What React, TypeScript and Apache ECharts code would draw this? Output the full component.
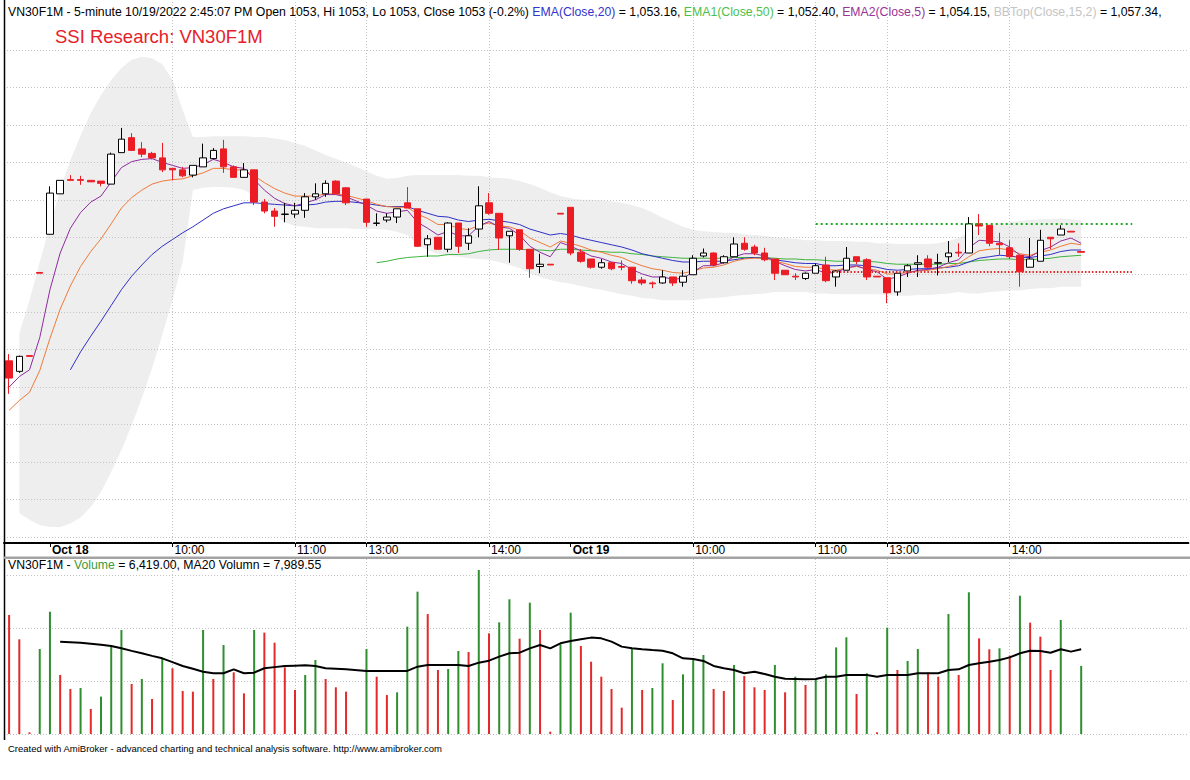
import React, { useEffect, useRef } from "react";
import * as echarts from "echarts";

// ---------- data ----------
const SLOT_COUNT = 116; // visible bar slots on the time axis (106 bars + empty right margin)

const AXIS_LABELS: Record<number, string> = {
  4: "Oct 18", 16: "10:00", 28: "11:00", 35: "13:00", 47: "14:00",
  55: "Oct 19", 67: "10:00", 79: "11:00", 86: "13:00", 98: "14:00",
};
const DAY_LABEL_IDX = [4, 55];
const TIME_GRID_IDX = [16, 28, 35, 47, 67, 79, 86, 98];
const PRICE_GRID = [1015, 1020, 1025, 1030, 1035, 1040, 1045, 1050, 1055, 1060, 1065, 1070, 1075, 1080];
const VOLUME_GRID = [0, 5000, 10000, 15000];

const open = [
  1038.5, 1037.1, 1039.2, 1050.3, 1055.4, 1060.8, 1062.7, 1062.7, 1062.6, 1062.5,
  1062.1, 1066.3, 1068.3, 1066.8, 1066.2, 1065.6, 1064.2, 1064.0, 1063.3, 1064.4,
  1065.5, 1066.8, 1064.4, 1063.0, 1064.0, 1059.7, 1058.5, 1058.05, 1058.1, 1058.6,
  1060.4, 1060.8, 1062.5, 1061.6, null, 1060.1, 1056.85, 1057.3, 1057.7, 1059.6,
  1058.8, 1054.0, 1055.0, 1053.4, 1056.9, 1054.2, 1056.1, 1059.6, 1058.2, 1055.2,
  1056.0, 1053.4, 1051.1, 1051.4, 1058.2, 1059.0, 1053.0, 1052.1, 1051.0, 1051.6,
  1051.1, 1051.0, 1049.3, 1048.9, 1048.9, 1049.7, 1049.0, 1050.0, 1052.5, 1052.9,
  1051.6, 1052.4, 1054.2, 1053.7, 1052.9, 1052.1, 1050.6, 1049.8, 1049.5, 1050.2,
  1051.3, 1049.7, 1050.6, 1052.4, 1052.0, 1049.8, 1049.6, 1047.7, 1050.5, 1051.4,
  1052.1, 1051.55, 1052.4, 1053.0, 1052.9, 1056.8, 1056.6, 1054.2, 1053.6, 1052.6,
  1051.0, 1051.8, 1055.0, 1055.3, 1055.8, 1053.1,
];
const high = [
  1039.4, 1039.2, 1039.2, 1050.3, 1061.8, 1062.6, 1063.3, 1063.2, 1062.6, 1062.5,
  1066.3, 1069.6, 1068.9, 1067.7, 1066.4, 1067.6, 1064.2, 1064.4, 1064.6, 1067.5,
  1066.9, 1068.0, 1064.6, 1064.9, 1064.0, 1060.1, 1058.9, 1059.6, 1059.6, 1060.9,
  1062.2, 1062.6, 1062.6, 1061.7, null, 1060.1, 1058.2, 1058.2, 1058.8, 1061.7,
  1058.8, 1055.3, 1055.0, 1057.0, 1056.9, 1056.2, 1061.8, 1060.9, 1058.2, 1055.8,
  1056.0, 1053.4, 1052.8, 1051.4, 1058.2, 1059.0, 1053.4, 1052.1, 1052.1, 1051.7,
  1051.9, 1051.0, 1049.7, 1049.1, 1050.6, 1049.7, 1050.6, 1052.6, 1053.5, 1053.0,
  1052.6, 1055.0, 1055.0, 1054.0, 1053.6, 1052.1, 1050.6, 1050.2, 1050.3, 1051.5,
  1052.4, 1050.6, 1053.7, 1052.4, 1052.2, 1049.8, 1049.6, 1050.2, 1051.4, 1052.6,
  1052.6, 1052.8, 1054.5, 1054.2, 1057.7, 1058.1, 1056.6, 1055.6, 1054.6, 1052.6,
  1054.9, 1056.0, 1055.0, 1056.6, 1055.8, 1053.1,
];
const low = [
  1034.1, 1036.9, 1039.1, 1050.2, 1055.4, 1060.8, 1062.6, 1062.0, 1062.4, 1061.8,
  1062.1, 1066.3, 1066.6, 1065.7, 1065.4, 1063.7, 1062.6, 1063.0, 1063.0, 1064.4,
  1065.4, 1063.6, 1063.0, 1063.0, 1059.3, 1058.2, 1056.4, 1057.0, 1057.6, 1057.6,
  1060.0, 1060.4, 1060.8, 1059.3, null, 1056.4, 1056.5, 1057.0, 1056.9, 1058.9,
  1053.7, 1052.4, 1053.4, 1053.0, 1052.9, 1053.3, 1055.0, 1058.0, 1053.3, 1051.6,
  1053.2, 1049.6, 1050.2, 1051.3, 1058.1, 1052.6, 1051.6, 1050.8, 1050.8, 1050.6,
  1050.6, 1048.8, 1048.6, 1048.2, 1048.8, 1048.5, 1048.4, 1050.0, 1052.3, 1051.1,
  1051.5, 1052.4, 1053.2, 1052.6, 1051.8, 1049.3, 1050.0, 1049.3, 1049.3, 1050.2,
  1049.0, 1048.4, 1050.6, 1051.4, 1049.3, 1049.7, 1046.2, 1047.2, 1049.7, 1049.7,
  1050.6, 1049.9, 1051.7, 1052.4, 1052.9, 1055.3, 1053.8, 1052.6, 1052.1, 1048.4,
  1051.0, 1051.8, 1053.4, 1055.3, 1055.7, 1053.0,
];
const close = [
  1036.2, 1039.1, 1039.1, 1050.2, 1060.9, 1062.6, 1062.6, 1062.6, 1062.4, 1062.2,
  1066.1, 1068.1, 1066.6, 1066.1, 1065.6, 1064.0, 1064.0, 1063.2, 1064.6, 1065.6,
  1066.6, 1064.4, 1063.0, 1064.0, 1059.7, 1058.5, 1057.8, 1058.1, 1058.6, 1060.4,
  1060.8, 1062.2, 1060.8, 1059.6, null, 1057.0, 1056.9, 1057.7, 1058.8, 1058.9,
  1053.8, 1054.8, 1053.4, 1056.9, 1053.8, 1055.2, 1059.2, 1058.2, 1054.9, 1055.8,
  1053.4, 1050.8, 1051.4, 1051.3, 1058.1, 1052.9, 1051.8, 1051.0, 1051.6, 1050.8,
  1051.0, 1049.2, 1048.9, 1048.8, 1049.7, 1048.9, 1049.8, 1052.2, 1052.9, 1051.3,
  1052.4, 1054.1, 1053.4, 1052.9, 1052.0, 1050.2, 1050.0, 1049.7, 1050.2, 1051.2,
  1049.2, 1050.5, 1052.2, 1051.8, 1049.7, 1049.7, 1047.6, 1050.2, 1051.2, 1051.6,
  1051.0, 1051.6, 1052.9, 1052.9, 1056.8, 1056.5, 1054.2, 1054.0, 1052.4, 1050.4,
  1052.1, 1054.6, 1054.8, 1056.1, 1055.7, 1053.0,
];

// EMA2(Close,5) - purple
const ema5 = [
  1035.0, 1036.4, 1037.3, 1041.6, 1048.0, 1052.9, 1056.2, 1058.3, 1059.7, 1060.5,
  1062.4, 1064.3, 1065.1, 1065.4, 1065.5, 1065.0, 1064.6, 1064.2, 1064.3, 1064.7,
  1065.4, 1065.0, 1064.4, 1064.2, 1062.7, 1061.3, 1060.2, 1059.5, 1059.2, 1059.6,
  1060.0, 1060.7, 1060.7, 1060.4, null, 1059.3, 1058.5, 1058.2, 1058.4, 1058.6,
  1057.0, 1056.2, 1055.3, 1055.8, 1055.2, 1055.2, 1056.5, 1057.1, 1056.4, 1056.2,
  1055.3, 1053.8, 1053.0, 1052.4, 1054.3, 1053.8, 1053.2, 1052.5, 1052.2, 1051.7,
  1051.5, 1050.7, 1050.1, 1049.7, 1049.7, 1049.4, 1049.5, 1050.4, 1051.2, 1051.2,
  1051.6, 1052.4, 1052.8, 1052.8, 1052.5, 1051.8, 1051.2, 1050.7, 1050.5, 1050.7,
  1050.2, 1050.3, 1050.9, 1051.2, 1050.7, 1050.4, 1049.4, 1049.7, 1050.2, 1050.6,
  1050.7, 1051.0, 1051.6, 1052.0, 1053.6, 1054.6, 1054.5, 1054.4, 1053.7, 1052.6,
  1052.4, 1053.2, 1053.7, 1054.5, 1054.9, 1054.2,
];
// orange average
const ema10 = [
  1031.9, 1033.2, 1034.3, 1037.2, 1041.5, 1045.4, 1048.5, 1051.1, 1053.1, 1054.8,
  1056.8, 1058.9, 1060.3, 1061.3, 1062.1, 1062.5, 1062.7, 1062.8, 1063.2, 1063.6,
  1064.2, 1064.2, 1064.0, 1064.0, 1063.2, 1062.3, 1061.5, 1060.9, 1060.5, 1060.5,
  1060.5, 1060.8, 1060.8, 1060.6, null, 1059.9, 1059.4, 1059.1, 1059.0, 1059.0,
  1058.1, 1057.5, 1056.7, 1056.7, 1056.2, 1056.0, 1056.6, 1056.9, 1056.5, 1056.4,
  1055.9, 1054.9, 1054.3, 1053.7, 1054.5, 1054.2, 1053.8, 1053.3, 1053.0, 1052.6,
  1052.3, 1051.7, 1051.2, 1050.8, 1050.6, 1050.3, 1050.2, 1050.5, 1050.9, 1051.0,
  1051.3, 1051.8, 1052.1, 1052.2, 1052.2, 1051.8, 1051.5, 1051.1, 1051.0, 1051.0,
  1050.7, 1050.6, 1050.9, 1051.1, 1050.8, 1050.6, 1050.1, 1050.1, 1050.3, 1050.5,
  1050.6, 1050.8, 1051.1, 1051.5, 1052.4, 1053.2, 1053.4, 1053.5, 1053.3, 1052.8,
  1052.6, 1053.0, 1053.3, 1053.8, 1054.2, 1054.0,
];
// EMA(Close,20) - blue
const ema20 = [
  null, null, null, null, null, null, 1037.3, 1039.7, 1041.8, 1043.8,
  1045.9, 1048.0, 1049.8, 1051.3, 1052.7, 1053.8, 1054.7, 1055.6, 1056.4, 1057.3,
  1058.2, 1058.8, 1059.2, 1059.6, 1059.6, 1059.5, 1059.4, 1059.3, 1059.2, 1059.3,
  1059.4, 1059.7, 1059.8, 1059.8, null, 1059.5, 1059.3, 1059.1, 1059.1, 1059.1,
  1058.6, 1058.2, 1057.8, 1057.7, 1057.3, 1057.1, 1057.3, 1057.4, 1057.2, 1057.0,
  1056.7, 1056.1, 1055.7, 1055.3, 1055.5, 1055.3, 1054.9, 1054.6, 1054.3, 1054.0,
  1053.7, 1053.3, 1052.8, 1052.5, 1052.2, 1051.9, 1051.7, 1051.7, 1051.8, 1051.8,
  1051.8, 1052.0, 1052.2, 1052.3, 1052.2, 1052.0, 1051.8, 1051.6, 1051.5, 1051.5,
  1051.2, 1051.2, 1051.3, 1051.3, 1051.2, 1051.0, 1050.7, 1050.6, 1050.7, 1050.8,
  1050.8, 1050.9, 1051.0, 1051.2, 1051.7, 1052.2, 1052.4, 1052.6, 1052.5, 1052.3,
  1052.3, 1052.5, 1052.7, 1053.1, 1053.3, 1053.3,
];
// EMA1(Close,50) - green
const ema50 = [
  null, null, null, null, null, null, null, null, null, null,
  null, null, null, null, null, null, null, null, null, null,
  null, null, null, null, null, null, null, null, null, null,
  null, null, null, null, null, null, 1051.6, 1051.8, 1052.1, 1052.3,
  1052.4, 1052.5, 1052.5, 1052.7, 1052.7, 1052.8, 1053.1, 1053.3, 1053.4, 1053.4,
  1053.4, 1053.3, 1053.3, 1053.2, 1053.4, 1053.4, 1053.3, 1053.2, 1053.1, 1053.0,
  1053.0, 1052.8, 1052.7, 1052.5, 1052.4, 1052.3, 1052.2, 1052.2, 1052.2, 1052.2,
  1052.2, 1052.3, 1052.3, 1052.3, 1052.3, 1052.2, 1052.1, 1052.1, 1052.0, 1052.0,
  1051.9, 1051.8, 1051.8, 1051.8, 1051.8, 1051.7, 1051.5, 1051.4, 1051.4, 1051.4,
  1051.4, 1051.4, 1051.5, 1051.5, 1051.7, 1051.9, 1052.0, 1052.1, 1052.1, 1052.0,
  1052.0, 1052.1, 1052.2, 1052.4, 1052.5, 1052.6,
];
// Bollinger band (Close,15,2)
const bbTop = [
  null, 1042.2, 1046.6, 1051.7, 1056.6, 1061.3, 1065.3, 1068.6, 1071.6, 1074.0,
  1076.0, 1077.6, 1078.7, 1079.1, 1078.9, 1078.1, 1076.0, 1072.0, 1068.4, 1068.4,
  1068.5, 1068.5, 1068.5, 1068.5, 1068.4, 1068.4, 1068.2, 1068.0, 1067.6, 1067.2,
  1066.6, 1066.0, 1065.5, 1065.0, 1064.4, 1063.8, 1063.2, 1062.8, 1062.9, 1063.2,
  1063.3, 1063.3, 1063.3, 1063.3, 1063.3, 1063.2, 1063.2, 1063.0, 1062.9, 1062.8,
  1062.5, 1062.1, 1061.6, 1061.0, 1060.5, 1060.2, 1060.0, 1060.0, 1059.9, 1059.8,
  1059.6, 1059.3, 1058.9, 1058.3, 1057.6, 1057.0, 1056.4, 1056.0, 1055.8, 1055.7,
  1055.6, 1055.6, 1055.4, 1055.3, 1055.2, 1055.0, 1054.9, 1054.8, 1054.6, 1054.6,
  1054.5, 1054.5, 1054.5, 1054.4, 1054.4, 1054.2, 1054.2, 1054.1, 1054.1, 1054.1,
  1054.1, 1054.2, 1054.5, 1054.9, 1055.7, 1056.2, 1056.5, 1056.8, 1057.0, 1057.2,
  1057.3, 1057.4, 1057.4, 1057.5, 1057.4, 1057.3,
];
const bbBottom = [
  null, 1018.2, 1017.3, 1016.6, 1016.3, 1016.3, 1016.8, 1017.6, 1019.0, 1021.0,
  1023.7, 1026.6, 1029.9, 1033.5, 1037.5, 1042.0, 1046.6, 1051.7, 1061.3, 1061.6,
  1061.7, 1061.7, 1061.6, 1061.3, 1060.6, 1059.3, 1058.0, 1057.0, 1056.5, 1056.4,
  1056.2, 1056.2, 1056.2, 1056.2, 1056.1, 1056.1, 1056.1, 1056.0, 1055.7, 1055.3,
  1054.0, 1053.3, 1052.8, 1052.5, 1052.4, 1052.2, 1052.1, 1052.0, 1051.7, 1051.3,
  1050.9, 1050.2, 1049.7, 1049.3, 1049.0, 1048.8, 1048.5, 1048.2, 1048.0, 1047.7,
  1047.4, 1047.2, 1046.9, 1046.8, 1046.6, 1046.6, 1046.6, 1046.6, 1046.8, 1046.9,
  1047.0, 1047.2, 1047.3, 1047.4, 1047.5, 1047.7, 1047.7, 1047.7, 1047.7, 1047.5,
  1047.5, 1047.4, 1047.4, 1047.4, 1047.4, 1047.4, 1047.3, 1047.2, 1047.2, 1047.3,
  1047.3, 1047.4, 1047.5, 1047.7, 1047.5, 1047.5, 1047.7, 1047.8, 1047.9, 1047.9,
  1048.1, 1048.2, 1048.2, 1048.4, 1048.4, 1048.4,
];

const resistanceLevel = 1056.8;
const resistanceRange = [79, 110];
const supportLevel = 1050.4;
const supportRange = [80, 110];

const volume = [
  11210, 8920, 160, 8010, 11520, 5560, 4240, 4330, 2360, 3520,
  8290, 9800, 4710, 5180, 3300, 7130, 6190, 4050, 3990, 9800,
  5180, 8380, 5810, 3830, 9800, 9550, 8600, 6280, 4150, 5560,
  6970, 5180, 4400, 3990, null, 8010, 5400, 3670, 3930, 10110,
  13410, 11300, 6030, 6120, 7820, 7720, 15450, 9480, 10520, 12690,
  8980, 12370, 9800, 220, 8450, 11430, 8290, 6810, 5400, 4240,
  2480, 8010, 4150, 4330, 6660, 3200, 5620, 6970, 7440, 4240,
  4050, 6500, 5460, 4400, 4150, 6500, 3930, 5400, 4620, 5150,
  5620, 8160, 9110, 3770, 5720, 160, 10020, 6030, 6880, 8010,
  5810, 5400, 11300, 5560, 13350, 9010, 7980, 8070, 7380, 13030,
  10490, 9170, 6030, 10740, null, 6419,
];
const volumeUp = [
  0, 0, 0, 1, 1, 0, 0, 1, 0, 1,
  1, 1, 0, 1, 0, 1, 0, 0, 0, 1,
  0, 1, 0, 0, 1, 0, 0, 0, 0, 1,
  1, 0, 0, 0, 0, 1, 0, 0, 1, 1,
  1, 0, 0, 1, 1, 0, 1, 0, 1, 1,
  0, 1, 0, 0, 1, 1, 0, 0, 0, 0,
  0, 1, 0, 1, 1, 0, 1, 1, 1, 0,
  0, 1, 0, 0, 0, 1, 0, 1, 0, 1,
  1, 1, 1, 0, 1, 0, 1, 0, 1, 1,
  0, 0, 1, 0, 1, 0, 0, 1, 0, 1,
  0, 0, 0, 1, 0, 1,
];
const volumeMA20 = [
  null, null, null, null, null, 8700, 8650, 8600, 8500, 8400,
  8290, 8070, 7830, 7600, 7360, 7130, 6770, 6410, 6140, 5870,
  5720, 5720, 6090, 5720, 5780, 6190, 6300, 6410, 6440, 6470,
  6410, 6190, 6140, 6090, null, 5940, 5940, 5940, 5940, 5940,
  6340, 6500, 6500, 6500, 6500, 6410, 6720, 6910, 7290, 7600,
  7660, 8070, 8380, 8070, 8540, 8760, 8920, 9080, 9010, 8700,
  8230, 8070, 7980, 7910, 7850, 7600, 7130, 7070, 6880, 6410,
  6190, 6030, 5720, 5870, 5650, 5400, 5210, 5180, 5150, 5180,
  5400, 5400, 5560, 5560, 5560, 5400, 5560, 5560, 5560, 5720,
  5720, 5720, 6030, 6090, 6500, 6660, 6810, 6970, 7220, 7600,
  7850, 7820, 7660, 7980, 7760, 7990,
];

// ---------- styling ----------
const FONT = 'Arial, "Liberation Sans", Helvetica, sans-serif';
const RED = "#ec1c24";
const VOL_RED = "#e32a2a";
const VOL_GREEN = "#2e8f2e";
const GRID_LINE = { color: "#c4c4c4", width: 1, type: [1, 2] as number[] };
const HEAD_SIZE = 12.25;

function buildOption() {
  const cats = Array.from({ length: SLOT_COUNT }, (_, i) => String(i));
  const candleData = open.map((o, i) =>
    o == null ? ["-", "-", "-", "-"] : [o, close[i], low[i], high[i]]
  );
  const bandSpan = bbTop.map((t, i) =>
    t == null || bbBottom[i] == null ? null : +(t - (bbBottom[i] as number)).toFixed(2)
  );
  const volData = volume.map((v, i) =>
    v == null ? "-" : { value: v, itemStyle: { color: volumeUp[i] ? VOL_GREEN : VOL_RED } }
  );
  const emptyData = cats.map(() => null);
  const lineBase = { type: "line", symbol: "none", silent: true, connectNulls: true, xAxisIndex: 0, yAxisIndex: 0 };

  const txt = (color: string) => ({ color, fontSize: HEAD_SIZE, fontFamily: FONT });

  return {
    animation: false,
    backgroundColor: "#ffffff",
    title: [
      {
        left: 8, top: 6, padding: 0,
        text:
          "{k|VN30F1M - 5-minute 10/19/2022 2:45:07 PM Open 1053, Hi 1053, Lo 1053, Close 1053 (-0.2%) }" +
          "{b|EMA(Close,20)}{k| = 1,053.16, }{g|EMA1(Close,50)}{k| = 1,052.40, }" +
          "{p|EMA2(Close,5)}{k| = 1,054.15, }{s|BBTop(Close,15,2)}{k| = 1,057.34,}",
        textStyle: {
          fontSize: HEAD_SIZE, fontFamily: FONT, fontWeight: "normal",
          rich: { k: txt("#000000"), b: txt("#3333cc"), g: txt("#4cbf4c"), p: txt("#993399"), s: txt("#c4c4c4") },
        },
      },
      {
        left: 55, top: 27, padding: 0,
        text: "SSI Research: VN30F1M",
        textStyle: { fontSize: 18.5, fontFamily: FONT, fontWeight: "normal", color: "#e8202a" },
      },
      {
        left: 8, top: 559, padding: 0,
        text: "{k|VN30F1M - }{g|Volume}{k| = 6,419.00, MA20 Volumn = 7,989.55}",
        textStyle: {
          fontSize: HEAD_SIZE, fontFamily: FONT, fontWeight: "normal",
          rich: { k: txt("#000000"), g: txt("#3a9a3a") },
        },
      },
      {
        left: 8, top: 743, padding: 0,
        text: "Created with AmiBroker - advanced charting and technical analysis software. http://www.amibroker.com",
        textStyle: { fontSize: 9.5, fontFamily: FONT, fontWeight: "normal", color: "#000000" },
      },
    ],
    grid: [
      { left: 4, top: 0, width: 1184.4, height: 543 },
      { left: 4, top: 558, width: 1184.4, height: 176 },
    ],
    xAxis: [
      {
        type: "category", gridIndex: 0, data: cats, boundaryGap: true,
        axisLine: { show: true, lineStyle: { color: "#000", width: 2 } },
        axisTick: {
          show: true, alignWithLabel: true, length: 4,
          interval: (i: number) => AXIS_LABELS[i] !== undefined,
          lineStyle: { color: "#000", width: 1 },
        },
        axisLabel: {
          interval: 0, align: "left", margin: 1, padding: [0, 0, 0, 2],
          color: "#000", fontSize: 12, fontFamily: FONT,
          formatter: (_v: string, i: number) => {
            const t = AXIS_LABELS[i];
            if (!t) return "";
            return DAY_LABEL_IDX.includes(i) ? `{d|${t}}` : t;
          },
          rich: { d: { fontWeight: "bold", fontSize: 12, fontFamily: FONT, color: "#000" } },
        },
        splitLine: { show: false },
      },
      {
        type: "category", gridIndex: 1, data: cats, boundaryGap: true,
        axisLine: { show: false }, axisTick: { show: false }, axisLabel: { show: false }, splitLine: { show: false },
      },
    ],
    yAxis: [
      { type: "value", gridIndex: 0, min: 1014.18, max: 1086.68, show: false },
      { type: "value", gridIndex: 1, min: 0, max: 16580, show: false },
    ],
    graphic: [
      { type: "line", silent: true, z: 100, shape: { x1: 4.5, y1: 0, x2: 4.5, y2: 740 }, style: { stroke: "#000", lineWidth: 1.5 } },
      { type: "rect", silent: true, z: 100, shape: { x: 4, y: 556.5, width: 1186, height: 2.5 }, style: { fill: "#a3a3a3" } },
    ],
    series: [
      { ...lineBase, name: "bbBase", data: bbBottom, stack: "bb", lineStyle: { opacity: 0 }, connectNulls: false, z: 1 },
      {
        ...lineBase, name: "bbSpan", data: bandSpan, stack: "bb", lineStyle: { opacity: 0 }, connectNulls: false,
        areaStyle: { color: "#eeeeee", opacity: 1 }, z: 1,
      },
      {
        ...lineBase, name: "priceGrid", data: emptyData, z: 2,
        markLine: {
          silent: true, z: 2, symbol: ["none", "none"], label: { show: false }, lineStyle: GRID_LINE,
          data: [...PRICE_GRID.map((v) => ({ yAxis: v })), ...TIME_GRID_IDX.map((i) => ({ xAxis: i }))],
        },
      },
      { ...lineBase, name: "EMA1(Close,50)", data: ema50, lineStyle: { color: "#3fb43f", width: 1 }, z: 3 },
      { ...lineBase, name: "EMA(Close,20)", data: ema20, lineStyle: { color: "#3030c4", width: 1 }, z: 3 },
      { ...lineBase, name: "EMA10", data: ema10, lineStyle: { color: "#f07a3a", width: 1 }, z: 3 },
      { ...lineBase, name: "EMA2(Close,5)", data: ema5, lineStyle: { color: "#8e2c9e", width: 1 }, z: 3 },
      {
        type: "candlestick", name: "VN30F1M", xAxisIndex: 0, yAxisIndex: 0, data: candleData, barWidth: 7, z: 4, silent: true,
        itemStyle: { color: "#ffffff", color0: RED, borderColor: "#000000", borderColor0: RED, borderWidth: 1 },
      },
      {
        ...lineBase, name: "levels", data: emptyData, z: 6,
        markLine: {
          silent: true, z: 6, symbol: ["none", "none"], label: { show: false },
          data: [
            [
              { coord: [resistanceRange[0], resistanceLevel], lineStyle: { color: "#22a822", width: 2, type: [2, 3] } },
              { coord: [resistanceRange[1], resistanceLevel] },
            ],
            [
              { coord: [supportRange[0], supportLevel], lineStyle: { color: "#e02828", width: 2, type: [1.5, 2] } },
              { coord: [supportRange[1], supportLevel] },
            ],
          ],
        },
      },
      {
        type: "line", name: "volGrid", xAxisIndex: 1, yAxisIndex: 1, data: emptyData, symbol: "none", silent: true, z: 2,
        markLine: {
          silent: true, z: 2, symbol: ["none", "none"], label: { show: false }, lineStyle: GRID_LINE,
          data: [...VOLUME_GRID.map((v) => ({ yAxis: v })), ...TIME_GRID_IDX.map((i) => ({ xAxis: i }))],
        },
      },
      { type: "bar", name: "Volume", xAxisIndex: 1, yAxisIndex: 1, data: volData, barWidth: 2, silent: true, z: 3 },
      {
        type: "line", name: "MA20 Volumn", xAxisIndex: 1, yAxisIndex: 1, data: volumeMA20, symbol: "none",
        connectNulls: true, silent: true, lineStyle: { color: "#000000", width: 2 }, z: 4,
      },
    ],
  };
}

export default function App() {
  const ref = useRef<HTMLDivElement>(null);
  useEffect(() => {
    if (!ref.current) return;
    const chart = echarts.init(ref.current, undefined, { renderer: "svg" });
    chart.setOption(buildOption() as any);
    return () => chart.dispose();
  }, []);
  return (
    <div
      ref={ref}
      style={{ position: "fixed", left: 0, top: 0, width: 1190, height: 780, background: "#fff", overflow: "hidden" }}
    />
  );
}
